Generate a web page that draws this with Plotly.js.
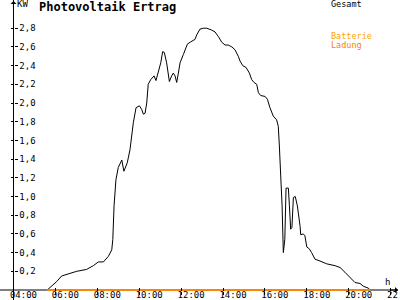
<!DOCTYPE html>
<html><head><meta charset="utf-8">
<script src="https://cdn.plot.ly/plotly-3.0.1.min.js"></script>
<style>html,body{margin:0;padding:0;background:#fff}#chart{width:400px;height:300px}</style>
</head><body><div id="chart"></div>
<script>
// time of day in hours
const timeH = [5.61,5.82,6.06,6.30,6.70,7.02,7.49,7.81,8.05,8.29,8.53,8.69,8.74,8.80,8.89,9.00,9.17,9.27,9.43,9.56,
  9.72,9.85,10.01,10.12,10.20,10.28,10.36,10.43,10.55,10.71,10.80,10.91,11.03,11.12,11.20,11.31,11.44,11.55,11.63,11.71,
  11.79,11.87,11.95,12.11,12.30,12.43,12.55,12.66,12.75,12.85,12.90,13.06,13.22,13.46,13.62,13.78,13.94,14.10,14.25,14.42,
  14.57,14.73,14.81,14.94,15.10,15.26,15.37,15.48,15.61,15.69,15.80,16.01,16.12,16.24,16.40,16.56,16.64,16.69,16.75,16.82,
  16.88,16.95,17.01,17.12,17.17,17.23,17.29,17.36,17.45,17.55,17.68,17.71,17.83,17.91,18.00,18.12,18.23,18.39,18.63,18.95,
  19.35,19.59,19.82,20.06,20.30,20.54,20.70,20.94,21.02];
const gesamtKW = [0,0.04,0.09,0.15,0.18,0.20,0.22,0.26,0.30,0.30,0.36,0.43,0.54,0.90,1.18,1.31,1.39,1.27,1.36,1.50,
  1.79,1.95,1.97,1.93,1.88,1.89,2.00,2.20,2.25,2.29,2.24,2.32,2.43,2.55,2.54,2.43,2.23,2.29,2.32,2.29,
  2.22,2.32,2.43,2.52,2.63,2.65,2.67,2.68,2.73,2.78,2.79,2.80,2.80,2.78,2.76,2.71,2.65,2.62,2.62,2.60,
  2.57,2.50,2.45,2.40,2.38,2.32,2.25,2.22,2.20,2.11,2.08,2.07,2.04,1.95,1.86,1.82,1.75,1.54,1.25,0.90,
  0.40,0.54,1.09,1.09,0.90,0.65,0.67,0.99,1.00,0.90,0.68,0.59,0.60,0.58,0.46,0.44,0.40,0.33,0.31,0.28,
  0.26,0.24,0.19,0.13,0.08,0.07,0.04,0.02,0];
const batterieTime = [5.61, 21.02];
const batterieKW = [0, 0];
const ladungTime = [5.61, 21.02];
const ladungKW = [0, 0];

const xTickVals = [4,6,8,10,12,14,16,18,20,22];
const xTickText = ['04:00','06:00','08:00','10:00','12:00','14:00','16:00','18:00','20:00','22:00'];
const yTickVals = [0.2,0.4,0.6,0.8,1.0,1.2,1.4,1.6,1.8,2.0,2.2,2.4,2.6,2.8];
const yTickText = ['0,2','0,4','0,6','0,8','1,0','1,2','1,4','1,6','1,8','2,0','2,2','2,4','2,6','2,8'];
const seriesNames = ['Gesamt','Batterie','Ladung'];
const titleText = 'Photovoltaik Ertrag';
const yUnit = 'KW';
const xUnit = 'h';

const MONO = 'DejaVu Sans Mono, Liberation Mono, monospace';
const PX_PER_KW = 93.5;
const xRange = [3.356, 22.353];
const yRange = [-1/PX_PER_KW, 290/PX_PER_KW];
const yAxisPos = 13.5/398;

const traces = [
  {x: timeH, y: gesamtKW, name: seriesNames[0], type: 'scatter', mode: 'lines',
   line: {color: '#000000', width: 1}, xaxis: 'x', yaxis: 'y', hoverinfo: 'skip'},
  {x: batterieTime, y: batterieKW, name: seriesNames[1], type: 'scatter', mode: 'lines',
   line: {color: '#ffa500', width: 1.5}, xaxis: 'x', yaxis: 'y', hoverinfo: 'skip'},
  {x: ladungTime, y: ladungKW, name: seriesNames[2], type: 'scatter', mode: 'lines',
   line: {color: '#ff8000', width: 1.5}, xaxis: 'x2', yaxis: 'y2', hoverinfo: 'skip'}
];

const axisCommon = {showgrid: false, zeroline: false, showline: false, fixedrange: true};
const tickFont = {family: MONO, size: 9, color: '#000000'};

const layout = {
  width: 400, height: 300,
  margin: {l: 0, r: 2, t: 0, b: 9, pad: 0},
  paper_bgcolor: '#ffffff', plot_bgcolor: '#ffffff',
  showlegend: false,
  font: {family: MONO, size: 9, color: '#000000'},
  title: {text: '<b>' + titleText + '</b>', xref: 'container', yref: 'container',
          x: 39/400, xanchor: 'left', y: 1 - 3/300, yanchor: 'top',
          font: {family: MONO, size: 12, color: '#000000'}, pad: {t: 0, l: 0, r: 0, b: 0}},
  xaxis: Object.assign({}, axisCommon, {range: xRange, tickvals: xTickVals, ticktext: xTickText,
          ticks: 'inside', ticklen: 3, tickwidth: 1, tickcolor: '#000000', anchor: 'y',
          ticklabelshift: 10, ticklabelstandoff: -3, ticklabeloverflow: 'allow', tickfont: tickFont}),
  xaxis2: Object.assign({}, axisCommon, {range: xRange, tickvals: xTickVals, overlaying: 'x',
          ticks: 'outside', ticklen: 3, tickwidth: 1, tickcolor: '#000000', anchor: 'y2',
          showticklabels: false}),
  yaxis: Object.assign({}, axisCommon, {range: yRange, tickvals: yTickVals, ticktext: yTickText,
          side: 'right', ticks: 'outside', ticklen: 3, tickwidth: 1, tickcolor: '#000000',
          anchor: 'free', position: yAxisPos, ticklabeloverflow: 'allow', tickfont: tickFont}),
  yaxis2: Object.assign({}, axisCommon, {range: yRange, tickvals: yTickVals, overlaying: 'y',
          side: 'left', ticks: 'outside', ticklen: 3, tickwidth: 1, tickcolor: '#000000',
          anchor: 'free', position: yAxisPos, showticklabels: false}),
  shapes: [
    {type: 'line', layer: 'below', xref: 'paper', yref: 'y', x0: 0, x1: 1, y0: 0, y1: 0,
     line: {color: '#000000', width: 1}},
    {type: 'line', layer: 'below', xref: 'x', yref: 'paper', x0: 4, x1: 4, y0: -10/291, y1: 1,
     line: {color: '#000000', width: 1}}
  ],
  annotations: [
    {xref: 'x', yref: 'paper', x: 4, y: 1, ax: 0, ay: 9, text: '', showarrow: true,
     arrowhead: 1, arrowsize: 1, arrowwidth: 1, arrowcolor: '#000000', standoff: 0},
    {xref: 'paper', yref: 'y', x: 1, y: 0, ax: -9, ay: 0, text: '', showarrow: true,
     arrowhead: 1, arrowsize: 1, arrowwidth: 1, arrowcolor: '#000000', standoff: 0},
    {xref: 'paper', yref: 'paper', x: 15/398, y: 1 - 4.5/291, xanchor: 'left', yanchor: 'middle',
     text: yUnit, showarrow: false, font: {family: MONO, size: 9, color: '#000000'}},
    {xref: 'paper', yref: 'paper', x: 387.5/398, y: 1 - 281.5/291, xanchor: 'center', yanchor: 'middle',
     text: xUnit, showarrow: false, font: {family: MONO, size: 9, color: '#000000'}},
    {xref: 'paper', yref: 'paper', x: 329/398, y: 1 - 4.5/291, xanchor: 'left', yanchor: 'middle',
     text: seriesNames[0], showarrow: false, font: {family: MONO, size: 8.5, color: '#000000'}},
    {xref: 'paper', yref: 'paper', x: 329/398, y: 1 - 35.5/291, xanchor: 'left', yanchor: 'middle',
     text: seriesNames[1], showarrow: false, font: {family: MONO, size: 8.5, color: '#ffa500'}},
    {xref: 'paper', yref: 'paper', x: 329/398, y: 1 - 44.5/291, xanchor: 'left', yanchor: 'middle',
     text: seriesNames[2], showarrow: false, font: {family: MONO, size: 8.5, color: '#ff8000'}}
  ]
};

Plotly.newPlot('chart', traces, layout, {staticPlot: true, displayModeBar: false});
</script>
</body></html>
